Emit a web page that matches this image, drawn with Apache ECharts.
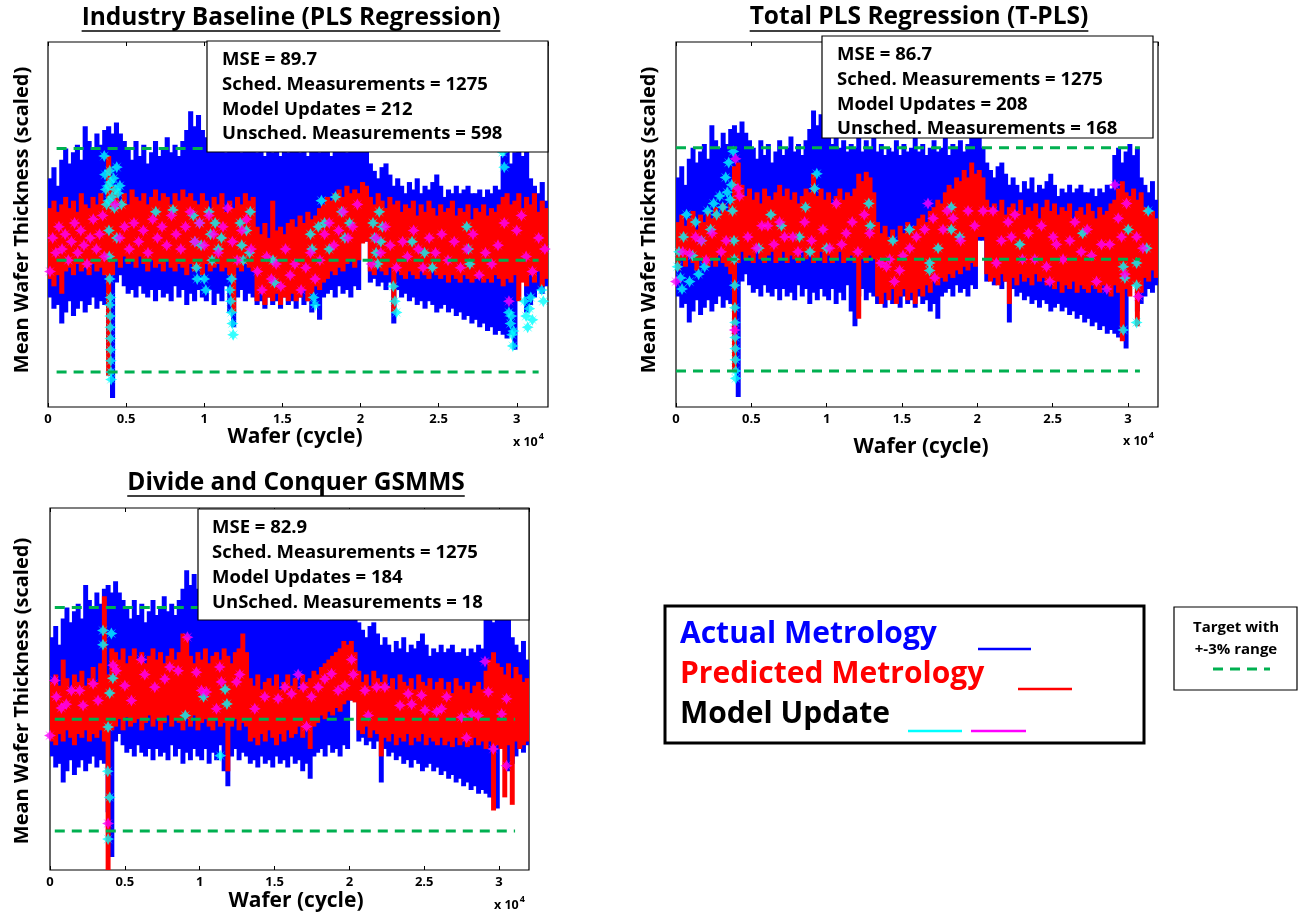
<!DOCTYPE html>
<html>
<head>
<meta charset="utf-8">
<script src="https://cdn.jsdelivr.net/npm/echarts@6/dist/echarts.min.js"></script>
<style>
  html, body { margin: 0; padding: 0; background: #fff; }
  #chart { width: 1299px; height: 915px; }
</style>
</head>
<body>
<div id="chart"></div>
<script>
// ---------------------------------------------------------------
// Wafer thickness traces, binned every 250 cycles (128 bins).
// Each bin keeps the lowest and highest reading inside it.
// ---------------------------------------------------------------
const BIN = 250;
const X_MAX = 32000;
const xTickValues = [0, 5000, 10000, 15000, 20000, 25000, 30000];
const targetLevels = [97, 100, 103];

// Actual metrology (same wafers in every panel)
const actualHigh = [
  102.2,102.5,102.0,102.7,103.0,102.6,102.9,103.1,102.7,103.6,
  103.2,103.0,103.4,103.1,103.5,103.6,103.4,103.7,103.4,103.2,
  103.0,102.7,103.2,102.8,103.1,102.6,102.9,103.2,102.8,103.0,
  103.3,102.9,103.1,102.8,103.2,103.5,104.0,103.6,103.9,103.5,
  103.3,103.1,103.4,103.0,103.2,102.9,103.1,103.0,103.3,102.9,
  103.2,103.0,103.4,102.9,103.1,102.8,103.0,102.9,103.2,102.8,
  103.1,102.9,103.0,103.3,102.9,103.1,102.8,103.0,103.2,102.9,
  103.0,103.3,102.8,103.1,103.0,103.2,102.9,103.1,103.4,103.5,
  103.3,103.0,102.6,102.4,102.2,102.5,102.6,102.3,102.0,102.2,
  102.0,101.8,102.1,101.9,102.2,101.8,102.0,101.9,102.1,102.3,
  102.0,101.7,101.9,101.8,102.0,101.8,101.9,102.0,101.8,101.8,
  101.9,101.7,101.9,101.8,102.0,101.9,102.8,103.0,102.6,102.9,
  103.1,102.8,103.0,102.2,102.0,101.8,102.1,101.6
];
const actualLow = [
  99.0,98.7,98.8,98.3,98.6,98.9,98.5,98.7,98.9,98.6,
  98.8,99.0,98.7,98.9,98.8,97.5,96.3,99.4,99.6,99.3,
  99.1,99.2,99.0,99.3,99.1,99.0,99.2,98.9,99.2,99.0,
  99.1,98.9,99.3,99.0,99.2,98.8,99.1,98.9,99.2,99.0,
  98.9,99.2,98.8,99.1,98.9,99.3,98.6,98.2,99.0,99.2,
  98.9,99.1,99.0,98.8,98.9,98.7,99.0,98.8,98.9,98.7,
  99.0,98.8,98.9,98.7,99.0,98.8,98.9,98.6,98.8,98.4,
  99.0,99.1,99.2,99.0,99.3,99.1,99.2,99.0,99.3,99.2,
  100.5,100.5,99.4,99.5,99.3,99.4,99.2,99.4,98.3,99.2,
  99.0,99.1,98.9,99.0,98.8,98.9,98.7,98.9,98.8,98.6,
  98.7,98.8,98.6,98.7,98.5,98.6,98.4,98.5,98.3,98.4,
  98.2,98.3,98.1,98.2,98.0,98.1,98.0,97.9,98.0,97.6,
  99.5,100.5,98.6,98.8,99.0,99.2,99.1,99.3
];

// Predicted metrology - PLS regression
const predPlsHigh = [
  101.4,101.6,101.3,101.5,101.7,101.4,101.6,101.3,101.8,101.5,
  101.4,101.7,101.5,101.8,101.6,102.8,102.0,101.9,101.6,101.8,
  101.5,101.9,101.7,101.6,101.8,101.5,101.7,101.9,101.6,101.8,
  101.7,101.5,101.8,101.6,101.9,101.7,101.8,101.6,101.5,101.8,
  101.6,101.4,101.7,101.5,101.8,101.3,101.6,101.4,101.7,101.5,
  101.8,101.6,101.7,100.9,100.7,101.0,100.6,101.6,100.8,100.9,
  100.7,101.0,101.1,100.9,101.2,101.0,101.3,101.1,101.2,101.4,
  101.5,101.7,101.6,101.8,101.9,101.7,102.0,101.8,101.9,101.8,
  102.1,102.0,101.7,101.5,101.8,101.6,101.4,101.7,101.5,101.6,
  101.3,101.5,101.4,101.6,101.2,101.5,101.3,101.6,101.4,101.2,
  101.5,101.3,101.4,101.6,101.2,101.4,101.3,101.5,101.1,101.4,
  101.3,101.5,101.2,101.4,101.3,101.5,101.7,101.8,101.5,101.6,
  101.8,101.4,101.7,101.5,101.8,101.3,101.6,101.4
];
const predPlsLow = [
  99.5,99.3,99.6,99.1,99.7,99.8,99.6,99.9,99.7,99.8,
  99.6,99.9,99.7,99.8,99.6,96.9,99.6,100.0,99.8,100.1,
  99.9,100.0,99.8,100.1,99.9,99.7,100.0,99.8,99.9,99.7,
  100.0,99.8,99.7,99.9,99.8,99.6,99.9,99.7,99.8,99.6,
  99.9,99.7,99.8,99.9,99.7,99.8,99.6,98.6,99.8,99.7,
  99.9,99.8,99.7,98.9,99.1,98.8,99.0,98.9,99.1,98.8,
  99.0,98.9,99.1,98.9,99.0,99.2,98.9,99.1,99.3,99.2,
  99.4,99.5,99.7,99.6,99.8,99.7,99.9,100.0,99.8,100.0,
  100.45,100.5,99.7,99.6,99.8,99.7,99.6,99.8,98.6,99.7,
  99.6,99.5,99.7,99.6,99.5,99.7,99.6,99.5,99.7,99.6,
  99.5,99.6,99.4,99.6,99.5,99.4,99.6,99.5,99.4,99.5,
  99.6,99.4,99.5,99.4,99.6,99.5,99.3,99.5,99.4,99.6,
  98.9,99.4,99.3,99.6,99.4,99.7,99.3,99.5
];

// Predicted metrology - total PLS
const predTplsHigh = [
  101.0,101.2,100.9,101.1,101.3,100.8,101.2,101.0,101.3,101.1,
  101.4,101.2,101.5,101.3,101.5,102.5,102.6,102.0,101.7,101.9,
  101.6,101.8,101.5,101.9,101.7,101.6,101.8,102.0,101.7,101.9,
  101.6,101.8,101.5,101.7,101.9,101.8,102.3,101.7,101.9,101.6,
  101.8,101.5,101.7,101.9,101.6,101.8,101.7,101.9,102.3,102.1,
  102.35,102.2,101.8,101.0,100.7,100.9,100.6,100.8,100.5,100.9,
  100.7,101.0,100.8,100.9,101.1,101.2,101.0,101.3,101.4,101.6,
  101.5,101.8,102.0,101.9,102.2,102.1,102.4,102.2,102.6,102.3,
  102.4,102.2,101.6,101.4,101.5,101.3,101.6,101.2,101.4,101.5,
  101.3,101.6,101.2,101.4,101.3,101.5,101.1,101.4,101.6,101.3,
  101.5,101.2,101.4,101.3,101.5,101.1,101.3,101.4,101.2,101.5,
  101.3,101.1,101.4,101.2,101.3,101.5,101.6,101.9,102.1,101.8,
  101.7,101.9,101.6,101.8,101.4,101.2,101.3,101.1
];
const predTplsLow = [
  99.7,100.0,99.8,100.1,99.9,99.7,100.0,99.9,99.8,100.0,
  99.8,100.1,99.9,99.8,99.6,97.0,99.9,100.2,100.0,100.1,
  99.9,100.2,100.0,99.9,100.1,100.2,99.9,100.0,100.2,99.9,
  100.1,100.0,99.9,100.2,100.0,100.1,99.9,100.0,100.2,99.9,
  100.1,99.9,100.0,100.2,99.9,100.0,100.1,99.9,98.4,100.0,
  99.9,100.1,100.0,99.0,98.8,99.1,98.9,99.2,98.8,99.0,
  99.2,98.9,99.1,98.8,99.2,99.0,99.3,99.1,99.4,99.3,
  99.5,99.4,99.6,99.5,99.7,99.6,99.8,99.7,99.9,99.8,
  100.6,100.6,99.6,99.4,99.5,99.3,99.6,99.4,98.8,99.5,
  99.3,99.6,99.4,99.5,99.3,99.6,99.4,99.5,99.3,99.4,
  99.2,99.4,99.1,99.3,99.2,99.4,99.1,99.3,99.2,99.1,
  99.3,99.2,99.1,99.3,99.2,99.0,99.3,99.1,97.8,99.2,
  99.0,99.3,98.2,99.1,99.5,99.4,99.7,99.5
];

// Predicted metrology - divide and conquer GSMMS
const predDcHigh = [
  101.0,101.2,100.9,101.6,101.1,100.8,101.2,101.0,101.3,100.9,
  101.1,101.4,101.0,101.5,103.3,101.2,101.9,101.8,101.6,101.9,
  101.5,101.7,101.9,101.6,101.8,101.5,101.7,101.9,101.6,101.8,
  101.5,101.7,101.9,101.6,101.8,102.3,102.2,101.7,101.5,101.8,
  101.6,101.9,101.5,101.7,101.8,101.6,101.9,101.7,101.5,101.8,
  101.9,102.3,101.8,101.1,100.9,101.2,100.8,101.0,101.1,100.9,
  101.2,100.8,101.0,101.2,100.9,101.1,100.8,101.2,101.0,101.1,
  101.3,101.2,101.4,101.5,101.6,101.7,101.8,101.9,102.1,102.0,
  102.1,101.8,101.3,101.0,101.2,100.9,101.3,101.1,101.0,101.2,
  100.9,101.1,100.8,101.2,101.0,100.9,101.1,100.8,101.2,101.0,
  100.9,101.1,100.8,101.0,101.1,100.8,101.0,100.7,101.1,100.9,
  100.8,101.0,100.7,100.9,101.0,100.8,101.3,101.6,101.8,101.5,
  101.4,101.2,101.5,101.1,101.4,101.2,101.0,101.1
];
const predDcLow = [
  99.4,99.3,99.6,99.4,99.7,99.5,99.3,99.6,99.5,99.7,
  99.4,99.6,99.5,99.7,99.4,95.9,99.7,99.8,100.0,99.7,
  100.05,99.8,99.9,100.0,99.7,99.9,100.1,99.8,100.0,99.7,
  99.9,100.1,99.8,100.0,99.9,99.7,100.0,99.8,100.1,99.7,
  99.9,100.0,99.8,99.7,100.0,99.8,99.9,98.6,99.8,100.0,
  99.7,99.9,99.8,99.4,99.5,99.3,99.6,99.4,99.7,99.5,
  99.3,99.6,99.4,99.7,99.5,99.6,99.8,99.5,99.7,99.2,
  99.8,99.9,100.1,100.0,100.2,100.1,100.3,100.2,100.4,100.5,
  100.5,100.45,99.7,99.6,99.8,99.5,99.7,99.6,99.0,99.5,
  99.4,99.6,99.3,99.5,99.4,99.6,99.3,99.5,99.4,99.6,
  99.3,99.5,99.4,99.3,99.5,99.3,99.4,99.25,99.5,99.3,
  99.4,99.25,99.3,99.5,99.3,99.4,99.2,99.4,97.55,99.3,
  99.2,97.9,99.3,97.7,99.4,99.2,99.3,99.4
];

// Model updates [cycle, scaled thickness]
const plsUpdatesMagenta = [
  [130,99.7],[300,100.6],[500,100.2],[700,100.9],[900,100.3],[1100,100.7],[1300,100.0],
  [1500,100.5],[1700,101.0],[1900,100.2],[2100,100.8],[2300,100.4],[2500,99.9],[2700,100.6],
  [2900,101.1],[3100,100.3],[3300,100.7],[3500,101.2],[3600,100.1],[4300,101.5],[4600,100.6],
  [4900,100.9],[5200,100.3],[5500,101.0],[5800,100.5],[6100,100.8],[6400,100.2],[6700,101.1],
  [7000,100.6],[7300,100.9],[7600,100.4],[7900,101.2],[8200,100.7],[8500,100.3],[8800,100.9],
  [9100,101.3],[9400,100.5],[9700,101.0],[10000,100.4],[10300,101.2],[10600,100.7],[10900,100.2],
  [11200,100.9],[11500,101.4],[11800,100.5],[12100,100.0],[12400,100.8],[12700,101.1],[13000,100.3],
  [13400,99.7],[13700,99.2],[14000,100.1],[14300,99.5],[14600,99.9],[14900,99.3],[15200,100.3],
  [15500,99.6],[15800,99.9],[16200,99.2],[16500,99.8],[16800,100.2],[17100,99.5],[17400,100.0],
  [17700,100.7],[18000,101.0],[18300,100.4],[18600,100.8],[18900,101.3],[19200,100.6],[19500,100.9],
  [19800,101.5],[20700,99.9],[21000,100.6],[21300,100.2],[21600,100.9],[21900,100.4],[22300,99.8],
  [22700,100.5],[23000,100.1],[23400,100.8],[23700,100.3],[24000,99.8],[24400,100.6],[24800,100.2],
  [25200,100.7],[25600,100.0],[26000,100.5],[26400,99.8],[26800,100.3],[27200,100.7],[27600,99.6],
  [28000,100.2],[28400,99.9],[28800,100.4],[29200,101.0],[29500,98.9],[30000,100.8],[30300,101.2],
  [30600,100.1],[31000,99.7],[31400,100.6],[31800,100.3]
];
const plsUpdatesCyan = [
  [3600,102.8],[3650,102.3],[3700,101.9],[3750,101.5],[3850,102.0],[3900,101.6],[3950,102.4],
  [4000,102.1],[4100,101.7],[4200,102.2],[4250,101.4],[4300,101.9],[4400,102.5],[4500,101.8],
  [4600,102.0],[4700,101.5],[3900,100.8],[3920,100.1],[3950,99.5],[3970,98.8],[3990,98.2],
  [4000,97.9],[4010,97.6],[4020,97.3],[4030,97.0],[4040,96.8],[3980,98.5],[4000,99.0],
  [4400,100.6],[6900,101.3],[8000,101.35],[9300,101.2],[9400,100.5],[9500,99.8],[9550,99.5],
  [9700,101.0],[9800,100.4],[10000,99.5],[10100,99.2],[10300,101.3],[10400,100.7],[10500,100.0],
  [10700,101.0],[10900,100.3],[11100,100.6],[11650,99.2],[11700,98.9],[11750,98.6],[11800,98.3],
  [11850,98.0],[11750,99.5],[12300,101.0],[12400,100.4],[12500,100.0],[12700,100.8],[12900,100.2],
  [12950,101.3],[14400,100.0],[14500,99.4],[16800,100.7],[16900,100.3],[17000,99.0],[17100,98.8],
  [17300,100.9],[17500,101.6],[17700,101.0],[18000,100.3],[18400,101.7],[18800,101.3],[19000,100.6],
  [19300,101.0],[20800,101.0],[20900,100.6],[21000,100.2],[21100,99.9],[21200,101.3],[21300,100.5],
  [21400,100.9],[22100,99.3],[22200,98.9],[22300,98.6],[23300,100.5],[24100,100.2],[24600,99.8],
  [26800,100.9],[26900,100.3],[27000,99.9],[29100,102.9],[29200,102.5],[29500,98.6],[29600,98.3],
  [29700,98.0],[29750,97.7],[29800,98.1],[29650,98.5],[30500,98.9],[30600,98.5],[30700,98.2],
  [30800,98.7],[30900,99.0],[31000,98.4],[31600,99.2],[31700,98.9]
];

const tplsUpdatesMagenta = [
  [0,99.4],[450,100.2],[900,100.15],[1300,100.6],[1670,100.5],[2000,99.98],[2400,100.7],
  [3000,100.2],[3330,100.5],[3900,98.1],[3950,102.7],[4110,101.9],[4220,101.7],[4770,100.6],
  [5330,100.3],[5700,100.9],[6100,100.9],[6500,100.4],[6880,101.0],[7210,100.6],[7760,100.6],
  [8100,100.2],[8540,101.0],[9000,100.5],[9760,100.8],[10200,100.3],[10640,101.5],[11000,100.4],
  [11300,100.7],[11700,101.0],[12080,100.2],[12500,101.2],[12860,100.7],[13600,99.9],[13970,99.8],
  [14190,100.0],[14500,99.4],[14850,99.7],[15070,100.1],[15520,100.3],[15960,100.6],[16510,100.8],
  [16730,101.5],[17070,101.1],[17180,99.5],[17730,100.8],[18000,101.3],[18400,101.1],[18900,100.5],
  [19390,101.3],[19830,100.9],[20390,101.3],[21050,101.3],[21270,99.9],[21600,100.5],[22050,101.0],
  [22270,100.6],[22500,101.2],[23000,100.0],[23400,100.7],[23820,100.0],[24260,100.9],[24600,99.8],
  [24820,99.4],[25040,100.6],[25260,100.4],[25700,100.0],[26150,100.5],[26480,101.0],[26900,100.2],
  [27300,100.8],[27590,100.1],[27920,99.4],[28250,100.4],[28600,99.2],[28800,100.4],[29140,102.0],
  [29360,101.1],[29580,100.6],[29800,99.6],[29910,101.5],[30580,100.6],[30700,99.0],[31000,100.3]
];
const tplsUpdatesCyan = [
  [100,99.8],[200,100.2],[300,99.5],[400,99.2],[500,100.6],[700,101.2],[900,99.4],[1100,100.1],
  [1300,101.0],[1500,99.6],[1700,100.5],[1900,99.8],[2100,101.3],[2300,100.8],[2500,101.5],
  [2700,101.2],[2900,101.7],[3100,101.4],[3300,102.2],[3400,101.8],[3500,102.6],[3600,101.6],
  [3700,102.0],[3750,101.3],[3800,102.9],[3850,100.5],[3870,100.0],[3900,99.3],[3910,98.7],
  [3920,98.3],[3930,97.9],[3940,97.6],[3950,97.3],[3960,97.0],[3970,96.8],[5500,100.3],
  [6300,101.2],[7000,100.9],[8200,100.6],[8600,101.4],[8900,100.2],[9200,101.9],[9350,102.3],
  [10000,100.3],[12800,101.5],[12900,100.9],[14400,100.5],[15500,100.8],[16840,99.9],[16840,99.7],
  [17400,100.3],[18280,101.4],[18280,100.8],[18840,100.6],[22830,100.4],[27000,100.7],[29700,99.8],
  [29800,99.5],[29700,98.1],[30020,100.8],[30580,99.9],[30580,99.3],[30580,98.3],[31350,101.3],
  [31250,100.3]
];

const dcUpdatesMagenta = [
  [0,99.56],[314,101.04],[425,100.6],[760,100.3],[1090,100.4],[1430,100.77],[1985,100.77],
  [2210,100.37],[2880,100.95],[3210,100.5],[3880,97.2],[4210,101.45],[4430,101.3],[5000,100.9],
  [5440,100.5],[6110,101.6],[6330,101.2],[7000,100.86],[7670,101.08],[8000,101.4],[8560,101.3],
  [9180,102.2],[9780,101.26],[10120,100.77],[10450,100.73],[11120,100.28],[11340,101.4],[11450,101.0],
  [12460,101.0],[12680,101.2],[13680,100.28],[14350,100.6],[15240,100.55],[15690,100.86],[16135,100.68],
  [16580,101.2],[16915,100.86],[17140,99.8],[17470,100.6],[17920,100.86],[18360,101.08],[18810,101.22],
  [19250,100.77],[19700,100.9],[20150,101.6],[20260,101.2],[21040,100.77],[21260,100.1],[21820,100.86],
  [22370,100.86],[23380,100.37],[23930,100.68],[24160,100.4],[24820,100.64],[25050,100.24],[25830,100.2],
  [26160,100.28],[26500,100.6],[27500,100.05],[27830,99.5],[28170,100.14],[28610,100.1],[29060,101.55],
  [29280,100.73],[29615,99.2],[30170,100.14],[30500,98.75],[30500,100.55]
];
const dcUpdatesCyan = [
  [3540,102.38],[3540,102.0],[4100,102.3],[4200,101.1],[3990,100.7],[3880,99.79],[3860,98.6],
  [3990,97.9],[3880,96.78],[9040,100.1],[10260,100.6],[11820,100.41],[11370,99.02],[11700,100.8]
];

// ---------------------------------------------------------------
const COLORS = {
  actual: '#0000ff', predicted: '#ff0000', cyan: '#00ffff',
  magenta: '#ff00ff', target: '#00b050'
};
const FONT = '"Open Sans", Lato, "DejaVu Sans", sans-serif';
const STAR = 'path://M0,-10 L3,-4 L8,-8 L4,-3 L10,0 L4,3 L8,8 L3,4 L0,10 L-3,4 L-8,8 L-4,3 L-10,0 L-4,-3 L-8,-8 L-3,-4 Z';

// One [binStart, low, high] record per bin.
function binRecords(low, high) {
  return low.map((l, i) => [i * BIN, l, high[i]]);
}

// Each bin is painted as a solid vertical stroke from its low to its high reading.
function bandSeries(records, color, xi, yi, z) {
  return {
    type: 'custom', xAxisIndex: xi, yAxisIndex: yi, z: z, animation: false,
    encode: { x: 0, y: [1, 2] },
    data: records,
    renderItem: function (params, api) {
      const start = api.value(0), lo = api.value(1), hi = api.value(2);
      const top = api.coord([start, hi]);
      const bottom = api.coord([start + BIN, lo]);
      const cs = params.coordSys;
      const shape = echarts.graphic.clipRectByRect(
        { x: top[0] - 0.5, y: top[1], width: bottom[0] - top[0] + 1.2, height: bottom[1] - top[1] },
        { x: cs.x, y: cs.y, width: cs.width, height: cs.height }
      );
      return shape && { type: 'rect', shape: shape, style: { fill: color } };
    }
  };
}

const panels = [
  {
    title: 'Industry Baseline (PLS Regression)',
    stats: ['MSE = 89.7', 'Sched. Measurements = 1275', 'Model Updates = 212', 'Unsched. Measurements = 598'],
    predLow: predPlsLow, predHigh: predPlsHigh,
    cyan: plsUpdatesCyan, magenta: plsUpdatesMagenta, targetSpan: [550, 31400],
    grid: { left: 48, top: 42, width: 500, height: 365 }, yMin: 96.06, yMax: 105.86,
    titlePos: [291, 18], underlineY: 31,
    statsBox: [207, 41, 341, 111], statsX: 222, statsY: [60, 85, 110, 134],
    yLabelPos: [22, 220], xLabelPos: [295, 437], expPos: [513, 442]
  },
  {
    title: 'Total PLS Regression (T-PLS)',
    stats: ['MSE = 86.7', 'Sched. Measurements = 1275', 'Model Updates = 208', 'Unsched. Measurements = 168'],
    predLow: predTplsLow, predHigh: predTplsHigh,
    cyan: tplsUpdatesCyan, magenta: tplsUpdatesMagenta, targetSpan: [0, 30800],
    grid: { left: 676, top: 42, width: 482, height: 365 }, yMin: 96.03, yMax: 105.84,
    titlePos: [919, 17], underlineY: 31,
    statsBox: [822, 36, 331, 102], statsX: 837, statsY: [55, 80, 105, 129],
    yLabelPos: [649, 220], xLabelPos: [921, 447], expPos: [1123, 441]
  },
  {
    title: 'Divide and Conquer GSMMS',
    stats: ['MSE = 82.9', 'Sched. Measurements = 1275', 'Model Updates = 184', 'UnSched. Measurements = 18'],
    predLow: predDcLow, predHigh: predDcHigh,
    cyan: dcUpdatesCyan, magenta: dcUpdatesMagenta, targetSpan: [320, 31070],
    grid: { left: 50, top: 508, width: 479, height: 362 }, yMin: 95.95, yMax: 105.67,
    titlePos: [296, 483], underlineY: 496,
    statsBox: [198, 509, 331, 111], statsX: 212, statsY: [528, 553, 578, 603],
    yLabelPos: [22, 691], xLabelPos: [296, 901], expPos: [494, 905]
  }
];

const measureCtx = document.createElement('canvas').getContext('2d');
function textWidth(str, font) { measureCtx.font = font; return measureCtx.measureText(str).width; }

const grids = [], xAxes = [], yAxes = [], series = [], graphics = [];

panels.forEach((p, k) => {
  grids.push(Object.assign({ show: true, borderColor: '#000', borderWidth: 1.2, backgroundColor: '#fff' }, p.grid));

  // bottom axis with labels
  xAxes.push({
    gridIndex: k, type: 'value', position: 'bottom', min: 0, max: X_MAX, interval: 5000,
    axisLine: { show: false }, splitLine: { show: false },
    axisTick: { show: true, inside: true, length: 4, lineStyle: { color: '#000', width: 1 } },
    axisLabel: {
      show: true, margin: 6, color: '#000', fontFamily: FONT, fontWeight: 'bold', fontSize: 13,
      showMaxLabel: false,
      formatter: v => (xTickValues.indexOf(v) >= 0 ? String(v / 10000) : '')
    }
  });
  // top axis, ticks only
  xAxes.push({
    gridIndex: k, type: 'value', position: 'top', min: 0, max: X_MAX, interval: 5000,
    axisLine: { show: false }, splitLine: { show: false }, axisLabel: { show: false },
    axisTick: { show: true, inside: true, length: 4, lineStyle: { color: '#000', width: 1 } }
  });
  yAxes.push({
    gridIndex: k, type: 'value', min: p.yMin, max: p.yMax,
    axisLine: { show: false }, axisTick: { show: false }, axisLabel: { show: false }, splitLine: { show: false }
  });

  const xi = k * 2, yi = k;
  series.push(bandSeries(binRecords(actualLow, actualHigh), COLORS.actual, xi, yi, 1));
  series.push(bandSeries(binRecords(p.predLow, p.predHigh), COLORS.predicted, xi, yi, 2));
  series.push({
    type: 'scatter', xAxisIndex: xi, yAxisIndex: yi, z: 3, animation: false,
    symbol: STAR, symbolSize: 12, itemStyle: { color: COLORS.cyan }, data: p.cyan
  });
  series.push({
    type: 'scatter', xAxisIndex: xi, yAxisIndex: yi, z: 4, animation: false,
    symbol: STAR, symbolSize: 12, itemStyle: { color: COLORS.magenta }, data: p.magenta
  });
  targetLevels.forEach(level => {
    series.push({
      type: 'line', xAxisIndex: xi, yAxisIndex: yi, z: 5, symbol: 'none', animation: false,
      data: [[p.targetSpan[0], level], [p.targetSpan[1], level]],
      lineStyle: { color: COLORS.target, width: 3, type: [10, 7] }
    });
  });

  // title with underline
  const titleFont = 'bold 24.5px ' + FONT;
  const tw = textWidth(p.title, titleFont);
  graphics.push({
    type: 'text', x: p.titlePos[0], y: p.titlePos[1], z: 20,
    style: { text: p.title, font: titleFont, fill: '#000', textAlign: 'center', textVerticalAlign: 'middle' }
  });
  graphics.push({
    type: 'line', z: 20,
    shape: { x1: p.titlePos[0] - tw / 2, y1: p.underlineY, x2: p.titlePos[0] + tw / 2, y2: p.underlineY },
    style: { stroke: '#000', lineWidth: 1.5 }
  });

  // statistics box
  graphics.push({
    type: 'rect', z: 20,
    shape: { x: p.statsBox[0], y: p.statsBox[1], width: p.statsBox[2], height: p.statsBox[3] },
    style: { fill: '#fff', stroke: '#000', lineWidth: 1.2 }
  });
  p.stats.forEach((line, j) => {
    graphics.push({
      type: 'text', x: p.statsX, y: p.statsY[j], z: 21,
      style: { text: line, font: 'bold 18.5px ' + FONT, fill: '#000', textAlign: 'left', textVerticalAlign: 'middle' }
    });
  });

  // axis names
  graphics.push({
    type: 'text', x: p.yLabelPos[0], y: p.yLabelPos[1], rotation: Math.PI / 2, z: 20,
    style: { text: 'Mean Wafer Thickness (scaled)', font: 'bold 20px ' + FONT, fill: '#000', textAlign: 'center', textVerticalAlign: 'middle' }
  });
  graphics.push({
    type: 'text', x: p.xLabelPos[0], y: p.xLabelPos[1], z: 20,
    style: { text: 'Wafer (cycle)', font: 'bold 21px ' + FONT, fill: '#000', textAlign: 'center', textVerticalAlign: 'middle' }
  });
  const expFont = 'bold 12.5px ' + FONT;
  graphics.push({
    type: 'text', x: p.expPos[0], y: p.expPos[1], z: 20,
    style: { text: 'x 10', font: expFont, fill: '#000', textAlign: 'left', textVerticalAlign: 'middle' }
  });
  graphics.push({
    type: 'text', x: p.expPos[0] + textWidth('x 10', expFont) + 1, y: p.expPos[1] - 6, z: 20,
    style: { text: '4', font: 'bold 9px ' + FONT, fill: '#000', textAlign: 'left', textVerticalAlign: 'middle' }
  });
});

// Legend box
const legendFont = 'bold 30px ' + FONT;
graphics.push(
  { type: 'rect', z: 20, shape: { x: 665, y: 606, width: 479, height: 137 }, style: { fill: '#fff', stroke: '#000', lineWidth: 3 } },
  { type: 'text', x: 680, y: 634, z: 21, style: { text: 'Actual Metrology', font: legendFont, fill: COLORS.actual, textVerticalAlign: 'middle' } },
  { type: 'line', z: 21, shape: { x1: 978, y1: 649, x2: 1031, y2: 649 }, style: { stroke: COLORS.actual, lineWidth: 2.5 } },
  { type: 'text', x: 680, y: 674, z: 21, style: { text: 'Predicted Metrology', font: legendFont, fill: COLORS.predicted, textVerticalAlign: 'middle' } },
  { type: 'line', z: 21, shape: { x1: 1018, y1: 689, x2: 1072, y2: 689 }, style: { stroke: COLORS.predicted, lineWidth: 2.5 } },
  { type: 'text', x: 680, y: 714, z: 21, style: { text: 'Model Update', font: legendFont, fill: '#000', textVerticalAlign: 'middle' } },
  { type: 'line', z: 21, shape: { x1: 908, y1: 731, x2: 962, y2: 731 }, style: { stroke: COLORS.cyan, lineWidth: 2.5 } },
  { type: 'line', z: 21, shape: { x1: 971, y1: 731, x2: 1026, y2: 731 }, style: { stroke: COLORS.magenta, lineWidth: 2.5 } }
);

// Target band key
graphics.push(
  { type: 'rect', z: 20, shape: { x: 1174, y: 607, width: 123, height: 83 }, style: { fill: '#fff', stroke: '#000', lineWidth: 1.2 } },
  { type: 'text', x: 1236, y: 628, z: 21, style: { text: 'Target with', font: 'bold 15px ' + FONT, fill: '#000', textAlign: 'center', textVerticalAlign: 'middle' } },
  { type: 'text', x: 1236, y: 650, z: 21, style: { text: '+-3% range', font: 'bold 15px ' + FONT, fill: '#000', textAlign: 'center', textVerticalAlign: 'middle' } },
  { type: 'line', z: 21, shape: { x1: 1213, y1: 669, x2: 1270, y2: 669 }, style: { stroke: COLORS.target, lineWidth: 3, lineDash: [10, 7] } }
);

const chart = echarts.init(document.getElementById('chart'), null, { renderer: 'canvas' });
chart.setOption({
  backgroundColor: '#fff',
  animation: false,
  grid: grids,
  xAxis: xAxes,
  yAxis: yAxes,
  series: series,
  graphic: graphics
});
</script>
</body>
</html>
